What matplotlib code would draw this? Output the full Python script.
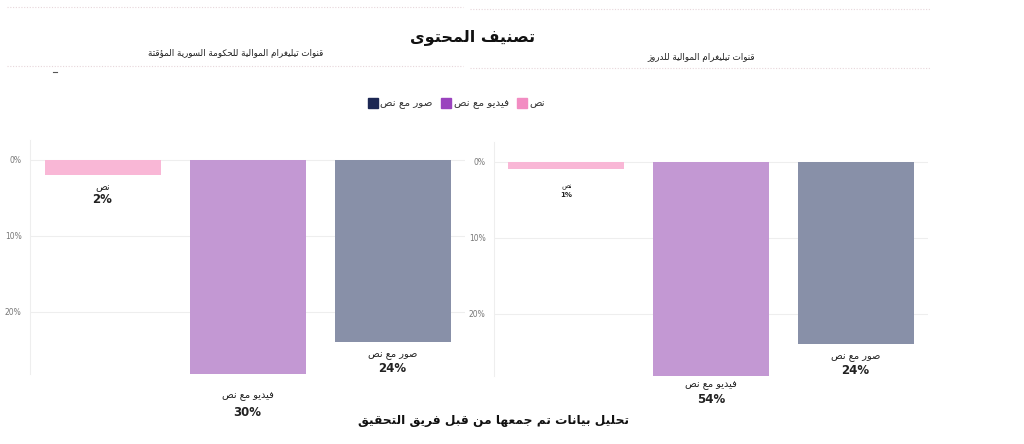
import matplotlib
matplotlib.use("Agg")
import matplotlib.pyplot as plt
from matplotlib.lines import Line2D
from matplotlib.ticker import PercentFormatter

# ---------------- data ----------------
title = "تصنيف المحتوى"
footer = "تحليل بيانات تم جمعها من قبل فريق التحقيق"
panel_titles = ["قنوات تيليغرام الموالية للحكومة السورية المؤقتة",
                "قنوات تيليغرام الموالية للدروز"]
categories = ["نص", "فيديو مع نص", "صور مع نص"]
values_gov = [2, 30, 24]
values_druze = [1, 54, 24]
yticks = [0, 10, 20]

bar_colors = ["#F9B7D6", "#C398D3", "#8890A8"]
legend_colors = ["#F28CC2", "#9A43BE", "#1C2753"]

# ---------------- minimal Arabic shaping (logical -> visual presentation forms) ----
FORMS = {  # isolated, final, initial, medial
    'ء': ('\uFE80', None, None, None),
    'آ': ('\uFE81', '\uFE82', None, None),
    'أ': ('\uFE83', '\uFE84', None, None),
    'ؤ': ('\uFE85', '\uFE86', None, None),
    'إ': ('\uFE87', '\uFE88', None, None),
    'ئ': ('\uFE89', '\uFE8A', '\uFE8B', '\uFE8C'),
    'ا': ('\uFE8D', '\uFE8E', None, None),
    'ب': ('\uFE8F', '\uFE90', '\uFE91', '\uFE92'),
    'ة': ('\uFE93', '\uFE94', None, None),
    'ت': ('\uFE95', '\uFE96', '\uFE97', '\uFE98'),
    'ث': ('\uFE99', '\uFE9A', '\uFE9B', '\uFE9C'),
    'ج': ('\uFE9D', '\uFE9E', '\uFE9F', '\uFEA0'),
    'ح': ('\uFEA1', '\uFEA2', '\uFEA3', '\uFEA4'),
    'خ': ('\uFEA5', '\uFEA6', '\uFEA7', '\uFEA8'),
    'د': ('\uFEA9', '\uFEAA', None, None),
    'ذ': ('\uFEAB', '\uFEAC', None, None),
    'ر': ('\uFEAD', '\uFEAE', None, None),
    'ز': ('\uFEAF', '\uFEB0', None, None),
    'س': ('\uFEB1', '\uFEB2', '\uFEB3', '\uFEB4'),
    'ش': ('\uFEB5', '\uFEB6', '\uFEB7', '\uFEB8'),
    'ص': ('\uFEB9', '\uFEBA', '\uFEBB', '\uFEBC'),
    'ض': ('\uFEBD', '\uFEBE', '\uFEBF', '\uFEC0'),
    'ط': ('\uFEC1', '\uFEC2', '\uFEC3', '\uFEC4'),
    'ظ': ('\uFEC5', '\uFEC6', '\uFEC7', '\uFEC8'),
    'ع': ('\uFEC9', '\uFECA', '\uFECB', '\uFECC'),
    'غ': ('\uFECD', '\uFECE', '\uFECF', '\uFED0'),
    'ف': ('\uFED1', '\uFED2', '\uFED3', '\uFED4'),
    'ق': ('\uFED5', '\uFED6', '\uFED7', '\uFED8'),
    'ك': ('\uFED9', '\uFEDA', '\uFEDB', '\uFEDC'),
    'ل': ('\uFEDD', '\uFEDE', '\uFEDF', '\uFEE0'),
    'م': ('\uFEE1', '\uFEE2', '\uFEE3', '\uFEE4'),
    'ن': ('\uFEE5', '\uFEE6', '\uFEE7', '\uFEE8'),
    'ه': ('\uFEE9', '\uFEEA', '\uFEEB', '\uFEEC'),
    'و': ('\uFEED', '\uFEEE', None, None),
    'ى': ('\uFEEF', '\uFEF0', None, None),
    'ي': ('\uFEF1', '\uFEF2', '\uFEF3', '\uFEF4'),
}
LAM_ALEF = {'ا': ('\uFEFB', '\uFEFC'), 'أ': ('\uFEF7', '\uFEF8'),
            'إ': ('\uFEF9', '\uFEFA'), 'آ': ('\uFEF5', '\uFEF6')}


def joins_forward(ch):
    f = FORMS.get(ch)
    return f is not None and f[2] is not None


def shape(text):
    chars = list(text)
    out = []
    i = 0
    while i < len(chars):
        c = chars[i]
        if c not in FORMS:
            out.append(c)
            i += 1
            continue
        prev = chars[i - 1] if i > 0 else None
        linked_prev = prev is not None and joins_forward(prev)
        if c == 'ل' and i + 1 < len(chars) and chars[i + 1] in LAM_ALEF:
            out.append(LAM_ALEF[chars[i + 1]][1 if linked_prev else 0])
            i += 2
            continue
        nxt = chars[i + 1] if i + 1 < len(chars) else None
        linked_next = nxt in FORMS and joins_forward(c)
        iso, fin, ini, med = FORMS[c]
        if linked_prev and linked_next:
            g = med
        elif linked_prev:
            g = fin
        elif linked_next:
            g = ini
        else:
            g = iso
        out.append(g)
        i += 1
    return ''.join(reversed(out))


plt.rcParams['font.family'] = ['DejaVu Sans']

fig = plt.figure(figsize=(10.24, 4.44), dpi=100)
W, H = 1024, 444


def fx(px):
    return px / W


def fy(py):
    return 1 - py / H


# ---------------- header ----------------
fig.text(fx(472), fy(37), shape(title), ha='center', va='center',
         fontsize=11.5, fontweight='bold', color='#111111')
fig.text(fx(236), fy(54), shape(panel_titles[0]), ha='center', va='center',
         fontsize=6.3, color='#222222')
fig.text(fx(701), fy(57), shape(panel_titles[1]), ha='center', va='center',
         fontsize=6.3, color='#222222')
for (x0, x1, y) in [(7, 463, 7), (470, 930, 9), (7, 463, 66), (470, 930, 68)]:
    fig.add_artist(Line2D([fx(x0), fx(x1)], [fy(y), fy(y)], transform=fig.transFigure,
                          color='#e7d6da', lw=0.8, ls=(0, (1, 1.5))))
fig.add_artist(Line2D([fx(53), fx(57)], [fy(72), fy(72)], transform=fig.transFigure,
                      color='#555555', lw=0.8))

# ---------------- legend ----------------
handles = [Line2D([], [], marker='s', ls='none', markersize=6.5,
                  markerfacecolor=legend_colors[i], markeredgecolor=legend_colors[i])
           for i in (2, 1, 0)]
labels = [shape(categories[i]) for i in (2, 1, 0)]
fig.legend(handles, labels, loc='center', bbox_to_anchor=(fx(457), fy(104)), ncol=3,
           frameon=False, fontsize=7.5, handletextpad=0.3, columnspacing=0.9,
           handlelength=0.8, labelcolor='#333333')

# ---------------- panels ----------------
panels = [
    (values_gov, (30, 465), (140, 374), -2.6, 28.2, (13, 26), (22, 39), (7, 8.5), (12, 25)),
    (values_druze, (494, 928), (142, 376), -2.6, 28.2, (13, 26), (9, 23), (5, 5), (18, 26)),
]
for vals, (xl, xr), (yt, yb), ytop, ybot, off, off_clip, (fs_cat0, fs_pct0), off0 in panels:
    ax = fig.add_axes([fx(xl), fy(yb), fx(xr) - fx(xl), fy(yt) - fy(yb)])
    xs = list(range(len(categories)))
    ax.bar(xs, vals, width=0.8, color=bar_colors, zorder=2)
    ax.set_xlim(-0.5, 2.5)
    ax.set_ylim(ybot, ytop)
    ax.set_yticks(yticks)
    ax.yaxis.set_major_formatter(PercentFormatter(decimals=0))
    ax.tick_params(axis='y', length=0, labelsize=5.5, labelcolor='#777777', pad=6)
    ax.set_xticks([])
    ax.grid(axis='y', color='#eeeeee', lw=0.8, zorder=0)
    for s in ('top', 'right', 'bottom'):
        ax.spines[s].set_visible(False)
    ax.spines['left'].set_color('#eeeeee')
    for i, v in enumerate(vals):
        clipped = v > ybot
        anchor = ybot if clipped else v
        o = off_clip if clipped else off
        fs_cat = fs_cat0 if i == 0 else 7
        fs_pct = fs_pct0 if i == 0 else 8.5
        if i == 0:
            o = off0
        ax.annotate(shape(categories[i]), xy=(i, anchor), xytext=(0, -o[0] * 0.72),
                    textcoords='offset points', ha='center', va='center',
                    fontsize=fs_cat, color='#222222', annotation_clip=False)
        ax.annotate(f"{v}%", xy=(i, anchor), xytext=(0, -o[1] * 0.72),
                    textcoords='offset points', ha='center', va='center',
                    fontsize=fs_pct, fontweight='bold', color='#222222',
                    annotation_clip=False)

fig.text(fx(493), fy(420), shape(footer), ha='center', va='center',
         fontsize=8.8, fontweight='bold', color='#111111')

fig.savefig("out.png", dpi=100, facecolor='white')
